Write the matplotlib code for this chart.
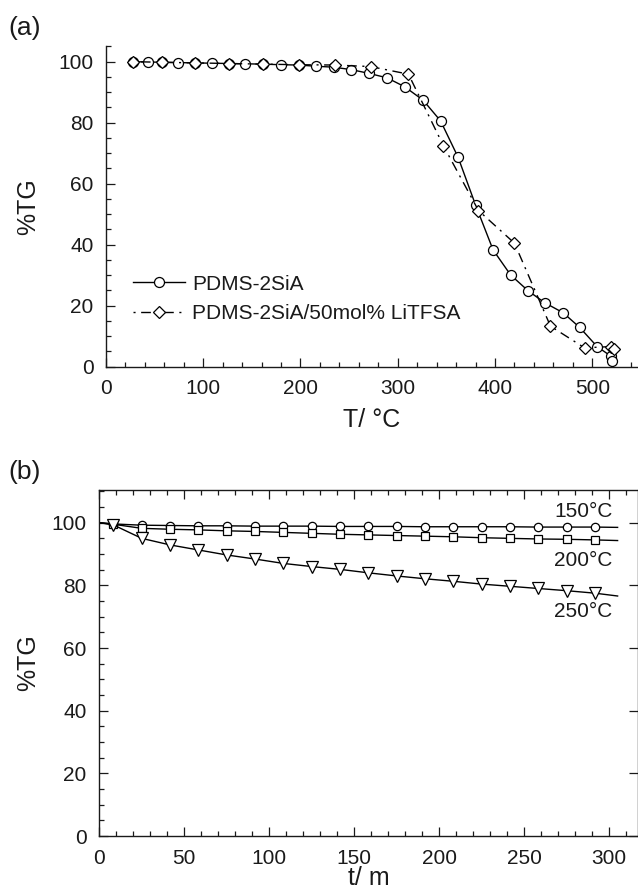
import numpy as np
from matplotlib import pyplot as plt
from matplotlib.ticker import MultipleLocator

plt.rcParams['font.family'] = ['Liberation Sans', 'DejaVu Sans']
plt.rcParams['text.color'] = '#1a1a1a'
plt.rcParams['axes.labelcolor'] = '#1a1a1a'
plt.rcParams['xtick.color'] = '#1a1a1a'
plt.rcParams['ytick.color'] = '#1a1a1a'

# (a) dynamic TGA, weight % vs temperature
T_pdms = [28, 43.5, 58, 74, 91.5, 108.6, 126, 143, 161, 180, 198, 216, 234, 252,
          270, 289, 307, 326, 344, 362, 380, 398, 416, 434, 451, 470, 487, 505,
          519, 520]
tg_pdms = [100.0, 99.9, 99.8, 99.7, 99.6, 99.5, 99.4, 99.3, 99.2, 99.0, 98.9,
           98.5, 98.2, 97.4, 96.2, 94.7, 91.8, 87.4, 80.6, 68.7, 53.0, 38.3,
           30.1, 24.9, 21.0, 17.7, 12.9, 6.6, 3.5, 2.0]
T_li = [28, 58, 91.5, 126, 161, 198, 235, 272, 311, 347, 383, 420, 457, 492,
        519, 522]
tg_li = [100.0, 99.8, 99.6, 99.4, 99.2, 99.0, 98.9, 98.4, 95.9, 72.4, 51.2,
         40.5, 13.3, 6.2, 6.6, 5.8]

# (b) isothermal TGA, weight % vs time
t_iso = [0, 8.3, 25, 41.7, 58.3, 75, 91.7, 108.3, 125, 141.7, 158.3, 175,
         191.7, 208.3, 225, 241.7, 258.3, 275, 291.7, 305]
tg_150 = [100, 99.6, 99.2, 99.1, 99.0, 99.0, 98.9, 98.9, 98.9, 98.8, 98.8,
          98.8, 98.7, 98.7, 98.7, 98.7, 98.6, 98.6, 98.6, 98.5]
tg_200 = [100, 99.5, 98.2, 97.9, 97.7, 97.4, 97.2, 96.9, 96.6, 96.3, 96.1,
          95.9, 95.7, 95.5, 95.2, 95.0, 94.8, 94.7, 94.5, 94.3]
tg_250 = [100, 99.3, 95.0, 92.9, 91.3, 89.7, 88.4, 87.0, 86.0, 85.1, 84.0,
          83.0, 82.1, 81.3, 80.4, 79.7, 79.0, 78.3, 77.5, 76.6]
iso_labels = ['150°C', '200°C', '250°C']

f = plt.figure(figsize=(6.38, 8.91), dpi=100)
ax1 = f.add_axes([0.1661, 0.5884, 0.8339, 0.3595])
ax2 = f.add_axes([0.1555, 0.0617, 0.8445, 0.3886])

mk = dict(markerfacecolor='white', markeredgecolor='black', markeredgewidth=0.9)

ax1.plot(T_pdms, tg_pdms, '-', color='black', lw=1.0, marker='o', ms=7.2,
         label='PDMS-2SiA', **mk)
# dash-dot starting on the dot, as in the legend key
ax1.plot(T_li, tg_li, color='black', lw=1.0, linestyle=(11, (7, 4, 1.5, 4)),
         marker='D', ms=6, label='PDMS-2SiA/50mol% LiTFSA', **mk)
ax1.set_xlim(0, 547)
ax1.set_ylim(0, 105)
ax1.spines['top'].set_visible(False)
ax1.spines['right'].set_visible(False)
ax1.xaxis.set_major_locator(MultipleLocator(100))
ax1.xaxis.set_minor_locator(MultipleLocator(20))
ax1.yaxis.set_major_locator(MultipleLocator(20))
ax1.yaxis.set_minor_locator(MultipleLocator(5))
ax1.set_xlabel('T/ °C', fontsize=18)
ax1.set_ylabel('%TG', fontsize=18)
ax1.xaxis.set_label_coords(0.5, -0.13)
ax1.yaxis.set_label_coords(-0.124, 0.5)
leg = ax1.legend(loc='center left', bbox_to_anchor=(0.035, 0.212), frameon=False,
                 fontsize=15, handlelength=2.5, handletextpad=0.35,
                 borderaxespad=0)

ax2.plot(t_iso, tg_150, '-', color='black', lw=1.0, marker='o', ms=6,
         markevery=range(1, len(t_iso) - 1), **mk)
ax2.plot(t_iso, tg_200, '-', color='black', lw=1.0, marker='s', ms=5.8,
         markevery=range(1, len(t_iso) - 1), **mk)
ax2.plot(t_iso, tg_250, '-', color='black', lw=1.0, marker='v', ms=8,
         markevery=range(1, len(t_iso) - 1), **mk)
ax2.text(302, 103.5, iso_labels[0], ha='right', va='center', fontsize=15)
ax2.text(302, 88, iso_labels[1], ha='right', va='center', fontsize=15)
ax2.text(302, 71.5, iso_labels[2], ha='right', va='center', fontsize=15)
ax2.set_xlim(0, 317)
ax2.set_ylim(0, 110.5)
ax2.xaxis.set_major_locator(MultipleLocator(50))
ax2.xaxis.set_minor_locator(MultipleLocator(10))
ax2.yaxis.set_major_locator(MultipleLocator(20))
ax2.yaxis.set_minor_locator(MultipleLocator(5))
ax2.set_xlabel('t/ m', fontsize=18)
ax2.set_ylabel('%TG', fontsize=18)
ax2.xaxis.set_label_coords(0.5, -0.088)
ax2.yaxis.set_label_coords(-0.11, 0.5)

for ax in (ax1, ax2):
    for s in ax.spines.values():
        s.set_linewidth(1.0)
        s.set_color('#1a1a1a')
    ax.tick_params(which='both', direction='in', labelsize=15, pad=9, width=0.9)
    ax.tick_params(which='major', length=6.5)
    ax.tick_params(which='minor', length=3.3)
ax2.tick_params(which='both', top=True)
ax2.tick_params(which='major', right=True)

f.text(0.039, 0.969, '(a)', ha='center', va='center', fontsize=19)
f.text(0.039, 0.47, '(b)', ha='center', va='center', fontsize=19)

plt.savefig('out.png', dpi=100)
